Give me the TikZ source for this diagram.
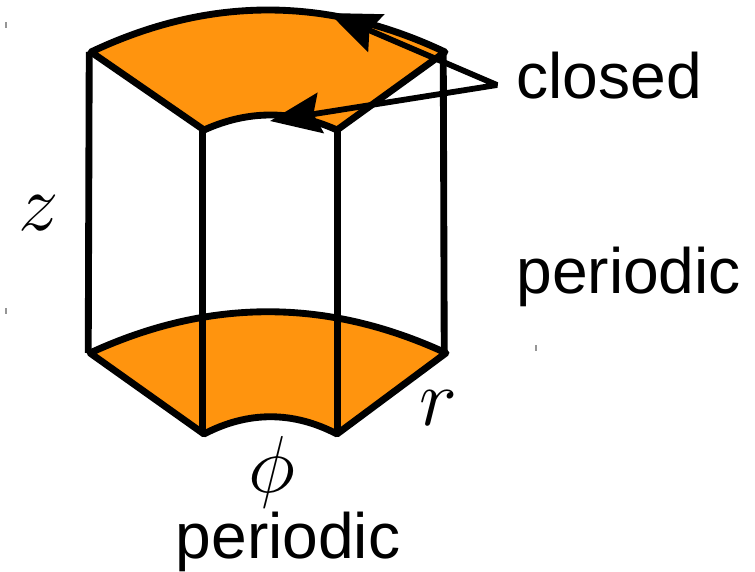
\documentclass[tikz,border=0pt]{standalone}
\usepackage{fix-cm}
\usepackage{fontspec}
\setmainfont{Liberation Sans}
\usetikzlibrary{arrows.meta}
\definecolor{sector}{RGB}{255,148,14}
\definecolor{speck}{RGB}{150,150,150}
\tikzset{
  >={Stealth[length=29pt,width=23pt,inset=4pt]},
  edge/.style={line width=3.9pt,line join=round,draw=black},
  face/.style={edge,fill=sector},
  pointer/.style={<->,line width=3.3pt,line join=bevel},
  word/.style={anchor=base west,inner sep=0pt,font=\fontsize{36.5}{40}\selectfont},
  var/.style={inner sep=0pt,font=\fontsize{46}{50}\selectfont},
  speckle/.style={speck,line width=0.9pt},
}
\begin{document}
\begin{tikzpicture}[x=0.02cm,y=-0.02cm]
  \useasboundingbox[fill=white] (0,0) rectangle (755,572);
  % corners of the sector
  \coordinate (tl) at (91,52);
  \coordinate (tr) at (445,52);
  \coordinate (til) at (204,130);
  \coordinate (tir) at (337,130);
  \coordinate (bl) at (90,353);
  \coordinate (br) at (446,353);
  \coordinate (bil) at (204,434);
  \coordinate (bir) at (337,434);
  \coordinate (apex) at (497,85);
  \coordinate (tipa) at (329,13);
  \coordinate (tipb) at (270,121);
  % faces
  \draw[face] (tl) .. controls (209,-4) and (327,-4) .. (tr) -- (tir)
    .. controls (293,110) and (248,110) .. (til) -- cycle;
  \draw[face] (bl) .. controls (209,298) and (327,298) .. (br) -- (bir)
    .. controls (293,411) and (248,411) .. (bil) -- cycle;
  % walls
  \draw[edge] ([xshift=-1pt]tl) -- ([xshift=-1pt]bl);
  \draw[edge] ([xshift=-1pt]tr) -- ([xshift=-1pt]br);
  \draw[edge] ([xshift=-1pt]til) -- ([xshift=-1pt]bil);
  \draw[edge] ([xshift=0.5pt]tir) -- ([xshift=0.5pt]bir);
  \draw[pointer] (tipa) -- (apex) -- (tipb);
  % labels
  \node[word] (closed) at (516,98) {closed};
  \node[word] (periodicr) at (516,293) {periodic};
  \node[word,anchor=base] (periodicb) at (288,558) {periodic};
  \node[var] (z) at (39,213) {$z$};
  \node[var] (r) at (438,408) {$r$};
  \node[var] (phi) at (272,472) {$\phi$};
  % stray marks
  \foreach \x/\y in {6/25,6/311,536/348}
    \draw[speckle] (\x,\y-3) -- (\x,\y+3);
\end{tikzpicture}
\end{document}
